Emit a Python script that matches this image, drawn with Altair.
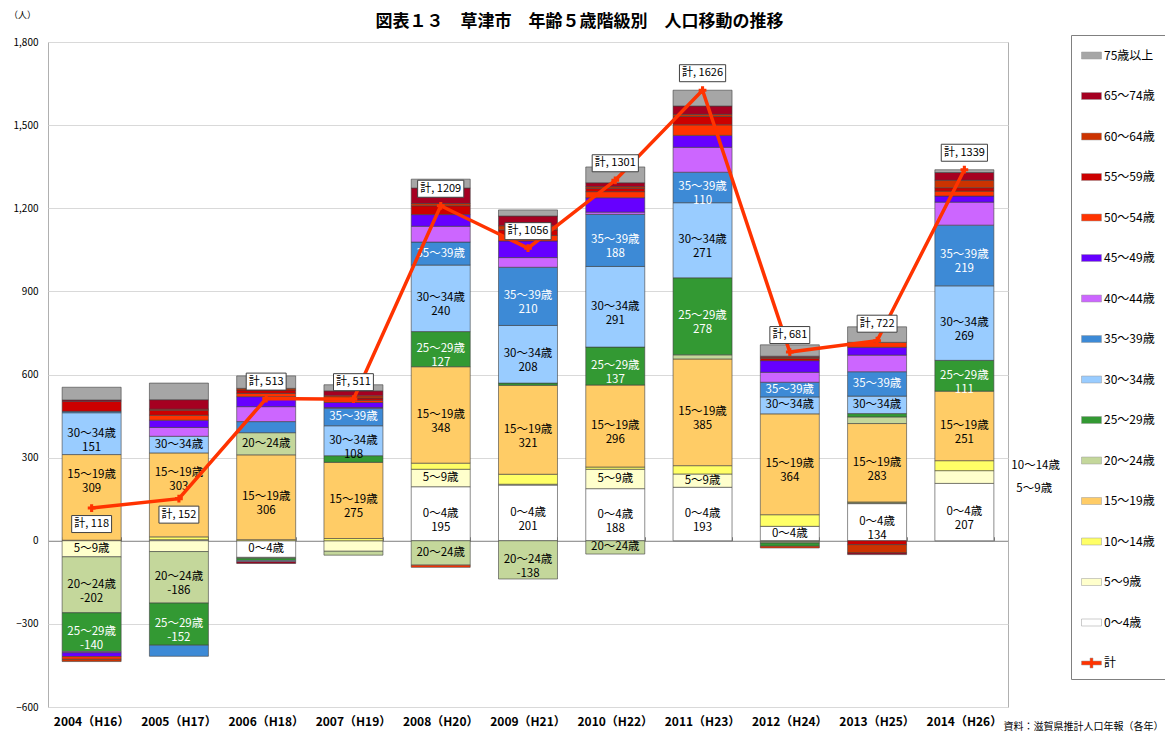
import altair as alt
import pandas as pd

FONT = "Noto Sans CJK JP"

years = ["2004（H16）", "2005（H17）", "2006（H18）", "2007（H19）", "2008（H20）",
         "2009（H21）", "2010（H22）", "2011（H23）", "2012（H24）", "2013（H25）", "2014（H26）"]
ages = ["0～4歳", "5～9歳", "10～14歳", "15～19歳", "20～24歳", "25～29歳", "30～34歳",
        "35～39歳", "40～44歳", "45～49歳", "50～54歳", "55～59歳", "60～64歳", "65～74歳", "75歳以上"]

a00_04 = [2, 4, -60, 0, 195, 201, 188, 193, 52, 134, 207]
a05_09 = [-58, -39, -3, -38, 63, 3, 70, 48, -3, 3, 46]
a10_14 = [0, 10, 4, 8, 22, 36, 8, 30, 42, 3, 36]
a15_19 = [309, 303, 306, 275, 348, 321, 296, 385, 364, 283, 251]
a20_24 = [-202, -186, 80, -14, -88, -138, -48, 15, -5, 24, 0]
a25_29 = [-140, -152, -8, 24, 127, 8, 137, 278, -12, 12, 111]
a30_34 = [151, 60, -5, 108, 240, 208, 291, 271, 61, 63, 269]
a35_39 = [5, -40, 40, 63, 83, 210, 188, 110, 53, 88, 219]
a40_44 = [-4, 32, 54, 3, 57, 35, 8, 90, 36, 60, 83]
a45_49 = [-14, 26, 36, 18, 42, 60, 52, 43, 42, 28, 22]
a50_54 = [-10, 18, 12, 8, -8, 20, 22, 38, -6, 18, 18]
a55_59 = [36, 18, 12, 8, 32, 20, 12, 30, 8, -14, 12]
a60_64 = [-8, 4, 6, 8, 8, 15, 6, 8, 4, -30, 27]
a65_74 = [5, 34, -6, 18, 56, 35, 14, 30, 4, -6, 28]
a75_up = [46, 60, 45, 22, 32, 22, 57, 57, 41, 56, 10]

totals = [118, 152, 513, 511, 1209, 1056, 1301, 1626, 681, 722, 1339]

age_colors = ["#FFFFFF", "#FFFFCC", "#FFFF66", "#FFCC66", "#C4D79B", "#339933", "#99CCFF",
              "#3D8AD6", "#CC66FF", "#6600FF", "#FF3300", "#CC0000", "#CC3300", "#A50021", "#A6A6A6"]
LINE_COLOR = "#FF3300"

series = [a00_04, a05_09, a10_14, a15_19, a20_24, a25_29, a30_34, a35_39,
          a40_44, a45_49, a50_54, a55_59, a60_64, a65_74, a75_up]

rows = []
for i, (age, vals) in enumerate(zip(ages, series)):
    for yr, v in zip(years, vals):
        if v != 0:
            rows.append({"year": yr, "age": age, "idx": i, "value": v})
df = pd.DataFrame(rows)
tot_df = pd.DataFrame({"year": years, "total": totals})

legend_domain = ages[::-1] + ["計"]
legend_colors = age_colors[::-1] + [LINE_COLOR]
RECT = "M-1,-0.35H1V0.35H-1Z"
PLUS = "M-1,-0.2H-0.15V-0.5H0.15V-0.2H1V0.2H0.15V0.5H-0.15V0.2H-1Z"
legend_shapes = [RECT] * 15 + [PLUS]

xscale = alt.Scale(domain=years, paddingInner=0.324, paddingOuter=0.162)
yscale = alt.Scale(domain=[-600, 1800], nice=False, zero=False)
color_scale = alt.Scale(domain=legend_domain, range=legend_colors)
shape_scale = alt.Scale(domain=legend_domain, range=legend_shapes)

x_plain = alt.X("year:N", scale=xscale, sort=years, axis=None)


def yq(field):
    return alt.Y(field, scale=yscale)


leg = alt.Legend(title=None, orient="none", legendX=1023, legendY=-7, direction="vertical",
                 padding=10, strokeColor="#808080", fillColor="white", rowPadding=23.5,
                 symbolSize=400, labelFont=FONT, labelFontSize=12, labelColor="black",
                 labelOffset=2, symbolStrokeColor="#999999", symbolStrokeWidth=0.5,
                 labelLimit=120)

base = alt.Chart(df).transform_stack(
    stack="value", groupby=["year"],
    sort=[alt.SortField("idx", order="ascending")], as_=["v0", "v1"])

bars = base.mark_bar(stroke="#404040", strokeWidth=0.6).encode(
    x=alt.X("year:N", scale=xscale, sort=years,
            axis=alt.Axis(orient="top", offset=-498.75, labels=False, domainColor="#868686",
                          tickColor="#868686", tickSize=4, tickBand="extent", grid=False,
                          title="図表１３　草津市　年齢５歳階級別　人口移動の推移",
                          titleFont=FONT, titleFontSize=17, titleFontWeight="bold",
                          titleColor="black", titleX=531, titleY=-519, titleAlign="center",
                          titleBaseline="middle", titleAngle=0)),
    y=alt.Y("v0:Q", scale=yscale,
            axis=alt.Axis(orient="left", values=list(range(-600, 1801, 300)),
                          labelExpr="format(datum.value, ',')",
                          grid=True, gridColor="#d9d9d9", gridWidth=1, domain=False,
                          ticks=False, labelFont=FONT, labelFontSize=10, labelPadding=10,
                          labelColor="black", title="（人）", titleAngle=0, titleX=-26,
                          titleY=-28, titleFontSize=9, titleFont=FONT,
                          titleFontWeight="normal", titleAlign="center",
                          titleBaseline="middle", titleColor="black")),
    y2="v1:Q",
    color=alt.Color("age:N", scale=color_scale, legend=leg),
)

seg_base = base.transform_calculate(
    mid="(datum.v0 + datum.v1) / 2",
    lab="datum.idx <= 7 ? (abs(datum.value) >= 100 ? datum.age + '\\n' + datum.value : "
        "(abs(datum.value) >= 47 ? datum.age : '')) : ''",
    low="datum.year === '2004（H16）' || datum.year === '2005（H17）'"
).transform_filter("datum.lab != ''")

seg_enc = dict(
    x=x_plain,
    y=yq("mid:Q"),
    text="lab:N",
    color=alt.condition("datum.idx == 5 || datum.idx == 7", alt.value("white"), alt.value("black")),
)
seg_text = seg_base.transform_filter("!(datum.low && datum.idx == 3)").mark_text(
    lineBreak="\n", lineHeight=14, font=FONT, fontSize=11.5).encode(**seg_enc)
seg_text_up = seg_base.transform_filter("datum.low && datum.idx == 3").mark_text(
    lineBreak="\n", lineHeight=14, font=FONT, fontSize=11.5, dy=-22).encode(**seg_enc)

callout_a = base.transform_calculate(mid="(datum.v0 + datum.v1) / 2").transform_filter(
    "datum.year === '2014（H26）' && datum.idx == 2").mark_text(
    align="left", dx=47, font=FONT, fontSize=11.5, color="black").encode(
    x=x_plain, y=yq("mid:Q"), text="age:N")
callout_b = base.transform_calculate(mid="(datum.v0 + datum.v1) / 2").transform_filter(
    "datum.year === '2014（H26）' && datum.idx == 1").mark_text(
    align="left", dx=52, dy=12, font=FONT, fontSize=11.5, color="black").encode(
    x=x_plain, y=yq("mid:Q"), text="age:N")

line = alt.Chart(tot_df).mark_line(color=LINE_COLOR, strokeWidth=3.5).encode(
    x=alt.X("year:N", scale=xscale, sort=years,
            axis=alt.Axis(orient="bottom", domain=False, ticks=False, labelFont=FONT,
                          labelFontSize=12, labelFontWeight="bold", labelPadding=9,
                          labelColor="black", labelAngle=0, labelOverlap=False,
                          title="資料：滋賀県推計人口年報（各年）", titleX=1115, titleY=24,
                          titleAlign="right", titleBaseline="bottom", titleFontSize=10,
                          titleFontWeight="normal", titleFont=FONT, titleColor="black")),
    y=yq("total:Q"),
)
pts = alt.Chart(tot_df).mark_point(shape="cross", filled=True, size=60, color=LINE_COLOR,
                                   opacity=1).encode(x=x_plain, y=yq("total:Q"))


def total_labels(cond, y0, y1, dy):
    src = alt.Chart(tot_df).transform_filter(cond).transform_calculate(
        bw="21 + 6.3 * length(toString(datum.total))",
        lab="'計, ' + datum.total")
    box = src.mark_bar(fill="white", stroke="#404040", strokeWidth=1,
                       yOffset=y0, y2Offset=y1).encode(
        x=x_plain, y=yq("total:Q"), y2="total:Q",
        size=alt.Size("bw:Q", scale=None))
    txt = src.mark_text(dy=dy, font=FONT, fontSize=11, color="black").encode(
        x=x_plain, y=yq("total:Q"), text="lab:N")
    return [box, txt]


above = total_labels("datum.total >= 300", -25.5, -8.5, -17)
below = total_labels("datum.total < 300", 7.5, 24.5, 16)

leg_layer = alt.Chart(df).transform_filter("false").mark_point(filled=True, opacity=1).encode(
    x=x_plain,
    y=yq("value:Q"),
    color=alt.Color("age:N", scale=color_scale, legend=leg),
    shape=alt.Shape("age:N", scale=shape_scale, legend=leg),
)

chart = alt.layer(
    bars, seg_text, seg_text_up, callout_a, callout_b, line, pts, *above, *below, leg_layer
).resolve_axis(x="independent").properties(
    width=960, height=665,
    padding={"left": 40, "top": 34, "right": 157, "bottom": 25},
    autosize=alt.AutoSizeParams(type="none"),
).configure_view(stroke="#b0b0b0", strokeWidth=1)

chart.save("out.html", embed_options={"renderer": "svg", "actions": False})
